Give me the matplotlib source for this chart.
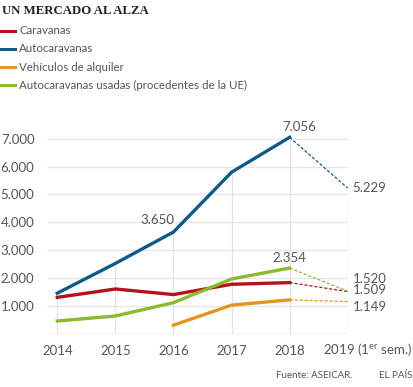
import matplotlib
matplotlib.use("Agg")
import matplotlib.pyplot as plt
import matplotlib.transforms as mtransforms

# data
years = [2014, 2015, 2016, 2017, 2018, 2019]
caravanas = [1300, 1600, 1400, 1770, 1830, 1509]
autocaravanas = [1450, 2520, 3650, 5800, 7056, 5229]
alquiler_years = [2016, 2017, 2018, 2019]
alquiler = [300, 1020, 1210, 1149]
usadas = [450, 630, 1110, 1960, 2354, 1520]

series_names = ["Caravanas", "Autocaravanas", "Vehículos de alquiler",
                "Autocaravanas usadas (procedentes de la UE)"]
colors = ["#b5121b", "#0f5a8c", "#e3961e", "#8db92e"]
yticks = [1000, 2000, 3000, 4000, 5000, 6000, 7000]
ytick_labels = ["1.000", "2.000", "3.000", "4.000", "5.000", "6.000", "7.000"]
xtick_labels = ["2014", "2015", "2016", "2017", "2018", "2019 (1$^{\\mathrm{er}}$ sem.)"]

plt.rcParams['font.family'] = ['Lato', 'DejaVu Sans']
plt.rcParams['mathtext.fontset'] = 'custom'
plt.rcParams['mathtext.rm'] = 'Lato'
txt = "#555555"

fig = plt.figure(figsize=(4.14, 3.87), dpi=100)
ax = fig.add_axes([47 / 414, 1 - 333.5 / 387, (347.7 - 47) / 414, 200.2 / 387])
x0 = 2014 - 10.3 / 58
ax.set_xlim(x0, 2019)
ax.set_ylim(0, 7200)
for s in ax.spines.values():
    s.set_visible(False)

# grid
ax.hlines(yticks, x0, 2019, color="#e6e6e6", lw=0.9, zorder=0)
ax.hlines([0], x0, 2019, color="#cccccc", lw=1.0, zorder=0)
ax.vlines(years, 0, autocaravanas, color="#e3e3e3", lw=0.9, zorder=0)

# solid part until 2018, dashed to 2019
def draw(xs, ys, c):
    ax.plot(xs[:-1], ys[:-1], color=c, lw=2.4, solid_joinstyle="round", zorder=3)
    ax.plot(xs[-2:], ys[-2:], color=c, lw=0.9, ls=(0, (2.5, 1.5)), zorder=2)

draw(years, caravanas, colors[0])
draw(years, autocaravanas, colors[1])
draw(alquiler_years, alquiler, colors[2])
draw(years, usadas, colors[3])

ax.set_yticks(yticks)
ax.set_yticklabels(ytick_labels)
ax.set_xticks(years)
ax.set_xticklabels(xtick_labels)
ax.tick_params(length=0, labelsize=9.5, labelcolor=txt)
ax.tick_params(axis="y", pad=9)
ax.tick_params(axis="x", pad=8)
last = ax.get_xticklabels()[-1]
last.set_horizontalalignment("left")
last.set_transform(last.get_transform() +
                   mtransforms.ScaledTranslation(-24.7 / 100, 4 / 100, fig.dpi_scale_trans))

# value labels
def fmt(v):
    return f"{v:,}".replace(",", ".")

ax.text(2015.72, 3870, fmt(3650), ha="center", va="bottom", fontsize=9.5, color=txt)
ax.text(2018.17, 7200, fmt(7056), ha="center", va="bottom", fontsize=9.5, color=txt, clip_on=False)
ax.text(2018.0, 2500, fmt(2354), ha="center", va="bottom", fontsize=9.5, color=txt)
lx = 2019 + 5 / 58
ax.text(lx, autocaravanas[-1], fmt(autocaravanas[-1]), ha="left", va="center", fontsize=9.5, color=txt, clip_on=False)
ax.text(lx, 1960, fmt(usadas[-1]), ha="left", va="center", fontsize=9.5, color=txt, clip_on=False)
ax.text(lx, 1560, fmt(caravanas[-1]), ha="left", va="center", fontsize=9.5, color=txt, clip_on=False)
ax.text(lx, 960, fmt(alquiler[-1]), ha="left", va="center", fontsize=9.5, color=txt, clip_on=False)

# title and legend
fig.text(2 / 414, 1 - 11 / 387, "UN MERCADO AL ALZA", family="Liberation Serif", weight="bold",
         fontsize=9.2, color="#222222", va="center", ha="left")
for i, (name, c) in enumerate(zip(series_names, colors)):
    yy = 1 - (30.7 + i * 18.2) / 387
    fig.add_artist(plt.Line2D([1 / 414, 15 / 414], [yy, yy], color=c, lw=2.2))
    fig.text(19 / 414, yy, name, fontsize=8.3, color=txt, va="center", ha="left")

fig.text(276 / 414, 1 - 376 / 387, "Fuente: ASEICAR.", fontsize=7, color=txt, va="center", ha="left")
fig.text(412 / 414, 1 - 376 / 387, "EL PAÍS", fontsize=7, color=txt, va="center", ha="right")

fig.savefig("out.png", dpi=100)
